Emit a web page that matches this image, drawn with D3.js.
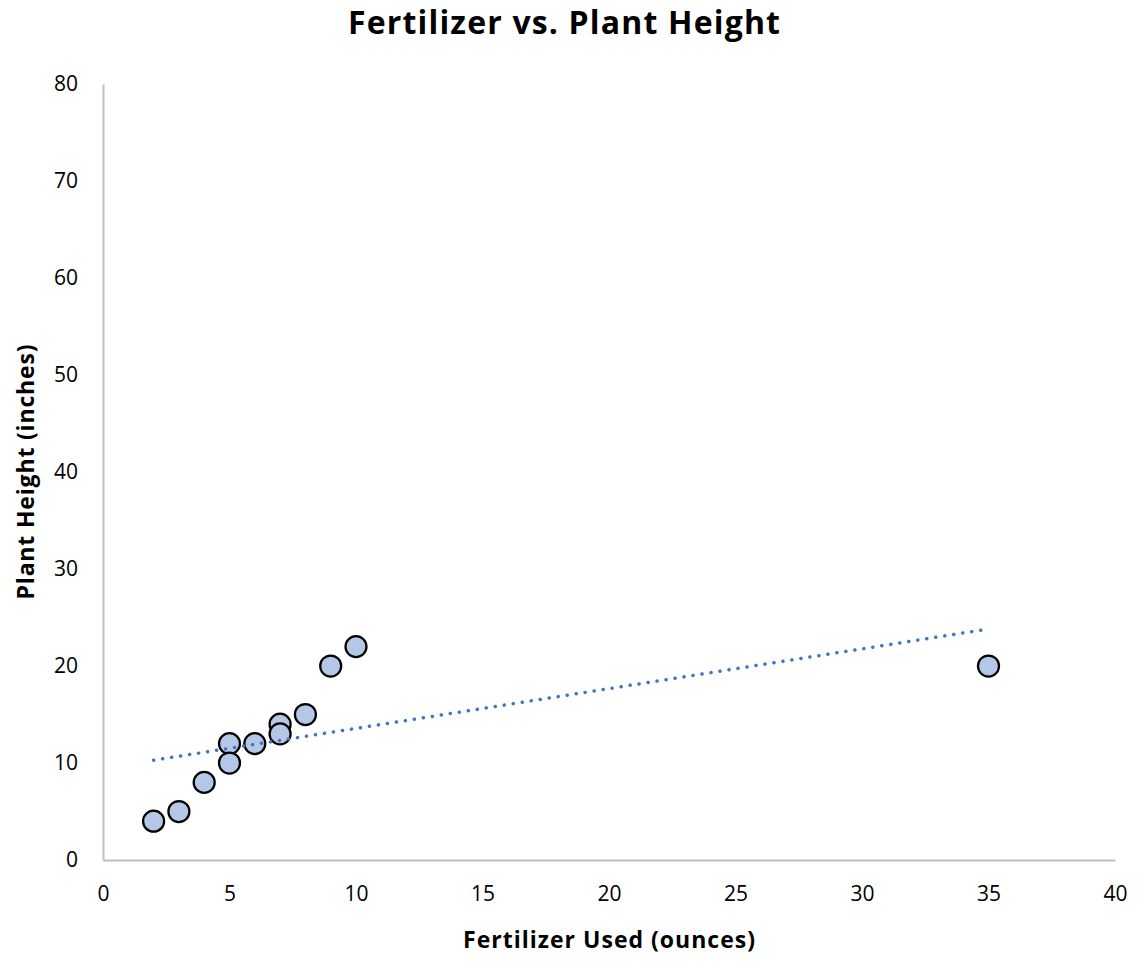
<!DOCTYPE html>
<html>
<head>
<meta charset="utf-8">
<script src="https://cdn.jsdelivr.net/npm/d3@7"></script>
<style>
  body { margin: 0; background: #fff; }
  svg text { font-family: "Open Sans", "Noto Sans", sans-serif; }
</style>
</head>
<body>
<svg id="chart" width="1147" height="968"></svg>
<script>
// fertilizer (ounces) and plant height (inches)
const fertilizer = [2, 3, 4, 5, 5, 6, 7, 7, 8, 9, 10, 35];
const height = [4, 5, 8, 12, 10, 12, 14, 13, 15, 20, 22, 20];
const xTicks = [0, 5, 10, 15, 20, 25, 30, 35, 40];
const yTicks = [0, 10, 20, 30, 40, 50, 60, 70, 80];

const data = fertilizer.map((f, i) => ({ x: f, y: height[i] }));

const svg = d3.select("#chart");

const xScale = d3.scaleLinear().domain([0, 40]).range([103, 1115]);
const yScale = d3.scaleLinear().domain([0, 80]).range([860, 84]);

// title
svg.append("text")
  .attr("x", 564).attr("y", 34)
  .attr("text-anchor", "middle")
  .attr("font-size", 32).attr("font-weight", "bold")
  .attr("textLength", 432)
  .text("Fertilizer vs. Plant Height");

// axes (no tick marks, gray lines)
const xAxis = svg.append("g")
  .attr("transform", "translate(0," + yScale(0) + ")")
  .call(d3.axisBottom(xScale).tickValues(xTicks).tickSize(0).tickPadding(26));
const yAxis = svg.append("g")
  .attr("transform", "translate(" + xScale(0) + ",0)")
  .call(d3.axisLeft(yScale).tickValues(yTicks).tickSize(0).tickPadding(25));

[xAxis, yAxis].forEach(a => {
  a.select(".domain").attr("stroke", "#bfbfbf").attr("stroke-width", 2);
  a.selectAll("text").attr("font-size", 21).attr("fill", "#000")
    .attr("font-family", "'Open Sans', 'Noto Sans', sans-serif");
});

// axis titles
svg.append("text")
  .attr("x", 609).attr("y", 948)
  .attr("text-anchor", "middle")
  .attr("font-size", 23).attr("font-weight", "bold")
  .attr("textLength", 292)
  .text("Fertilizer Used (ounces)");

svg.append("text")
  .attr("transform", "translate(34," + 472 + ") rotate(-90)")
  .attr("text-anchor", "middle")
  .attr("font-size", 23).attr("font-weight", "bold")
  .attr("textLength", 255)
  .text("Plant Height (inches)");

// points
svg.selectAll(".dot")
  .data(data)
  .enter()
  .append("circle")
  .attr("class", "dot")
  .attr("cx", d => xScale(d.x))
  .attr("cy", d => yScale(d.y))
  .attr("r", 10.5)
  .attr("fill", "#b4c7e7")
  .attr("stroke", "#000")
  .attr("stroke-width", 2.25);

// linear trendline (least squares), drawn over the points
const mx = d3.mean(fertilizer), my = d3.mean(height);
const sxy = d3.sum(data, d => (d.x - mx) * (d.y - my));
const sxx = d3.sum(data, d => (d.x - mx) * (d.x - mx));
const slope = sxy / sxx;
const intercept = my - slope * mx;
const xMin = d3.min(fertilizer), xMax = d3.max(fertilizer);

svg.append("line")
  .attr("x1", xScale(xMin)).attr("y1", yScale(intercept + slope * xMin))
  .attr("x2", xScale(xMax)).attr("y2", yScale(intercept + slope * xMax))
  .attr("stroke", "#4472c4")
  .attr("stroke-width", 3.5)
  .attr("stroke-linecap", "round")
  .attr("stroke-dasharray", "0.1 9");
</script>
</body>
</html>
